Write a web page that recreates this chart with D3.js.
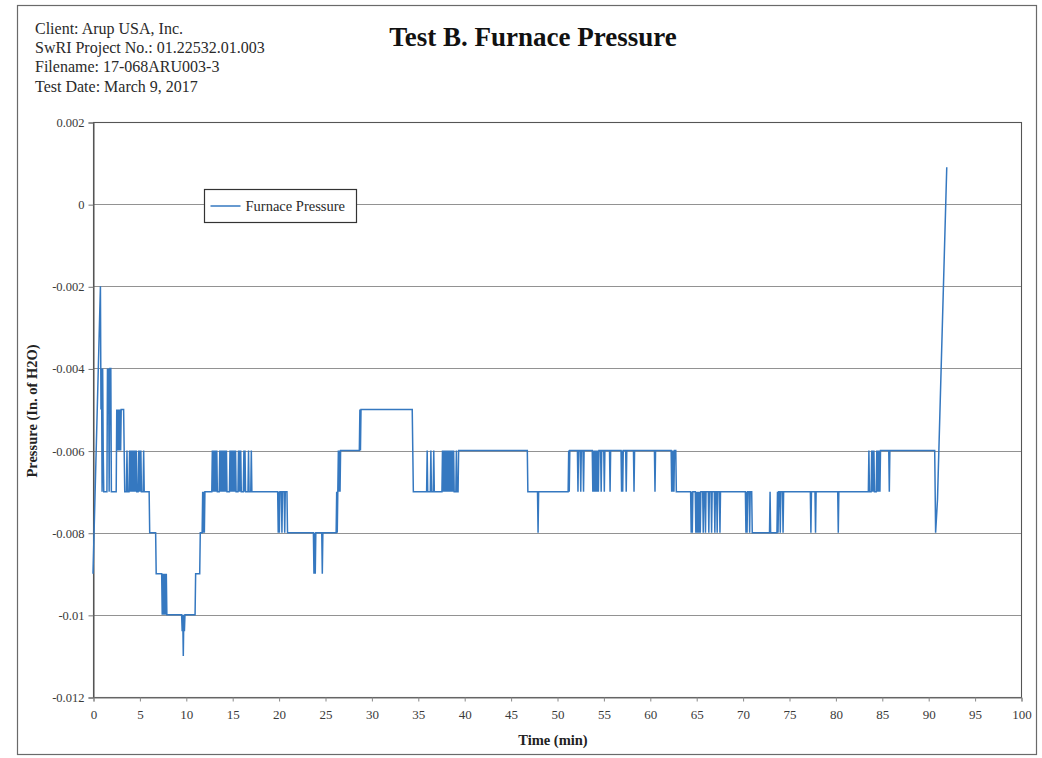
<!DOCTYPE html>
<html>
<head>
<meta charset="utf-8">
<title>Test B. Furnace Pressure</title>
<script src="https://cdn.jsdelivr.net/npm/d3@7/dist/d3.min.js"></script>
<style>
  html, body { margin: 0; padding: 0; background: #ffffff; }
  svg { display: block; }
  text { font-family: "Liberation Serif", "Times New Roman", serif; }
</style>
</head>
<body>
<svg id="chart" width="1042" height="758"></svg>
<script>
// Report header
const headerLines = [
  "Client: Arup USA, Inc.",
  "SwRI Project No.: 01.22532.01.003",
  "Filename: 17-068ARU003-3",
  "Test Date: March 9, 2017"
];
const chartTitle = "Test B. Furnace Pressure";
const seriesName = "Furnace Pressure";
const xTitle = "Time (min)";
const yTitle = "Pressure (In. of H2O)";

// Axis ticks
const xTicks = [0, 5, 10, 15, 20, 25, 30, 35, 40, 45, 50, 55, 60, 65, 70, 75, 80, 85, 90, 95, 100];
const yTicks = [0.002, 0, -0.002, -0.004, -0.006, -0.008, -0.01, -0.012];
const yTickLabels = ["0.002", "0", "-0.002", "-0.004", "-0.006", "-0.008", "-0.01", "-0.012"];

// Furnace pressure readings: [time (min), pressure (in. H2O)]
const furnacePressure = [
  // start-up swings
  [0.00,-0.009],[0.80,-0.002],[0.86,-0.005],[0.92,-0.004],[0.98,-0.007],[1.04,-0.004],[1.10,-0.006],[1.16,-0.007],
  [1.50,-0.007],[1.56,-0.004],[1.62,-0.005],[1.68,-0.004],[1.74,-0.007],[1.82,-0.004],[1.92,-0.004],[1.98,-0.007],
  [2.50,-0.007],[2.56,-0.005],[2.62,-0.006],[2.68,-0.005],[2.74,-0.006],[2.80,-0.005],[2.86,-0.006],[2.92,-0.005],
  [2.98,-0.006],[3.04,-0.005],[3.30,-0.005],[3.36,-0.006],[3.42,-0.007],
  [3.60,-0.007],[3.66,-0.006],[3.72,-0.007],
  [3.88,-0.007],[3.94,-0.006],[4.00,-0.007],[4.06,-0.006],[4.12,-0.007],[4.18,-0.006],[4.24,-0.007],[4.30,-0.006],
  [4.36,-0.007],[4.42,-0.006],[4.48,-0.007],[4.54,-0.006],[4.60,-0.007],[4.66,-0.006],[4.72,-0.007],
  [4.86,-0.007],[4.92,-0.006],[4.98,-0.007],[5.04,-0.006],[5.10,-0.007],[5.16,-0.006],[5.22,-0.007],
  [5.40,-0.007],[5.46,-0.006],[5.52,-0.007],
  // dip to the minimum
  [6.05,-0.007],[6.11,-0.008],
  [6.75,-0.008],[6.81,-0.009],
  [7.40,-0.009],[7.46,-0.010],[7.52,-0.009],[7.58,-0.010],[7.64,-0.009],[7.70,-0.010],[7.76,-0.009],[7.84,-0.010],
  [7.90,-0.009],[7.96,-0.010],
  [9.55,-0.010],[9.61,-0.0104],[9.67,-0.010],[9.73,-0.011],[9.79,-0.010],[9.85,-0.0104],[9.91,-0.010],
  [11.00,-0.010],[11.06,-0.009],
  [11.50,-0.009],[11.56,-0.008],
  [11.76,-0.008],[11.82,-0.007],[11.88,-0.008],[11.94,-0.007],[12.00,-0.008],[12.06,-0.007],
  // chatter between -0.006 and -0.007
  [12.80,-0.007],[12.86,-0.006],[12.92,-0.007],[12.98,-0.006],[13.04,-0.007],[13.10,-0.006],[13.16,-0.007],
  [13.22,-0.006],[13.28,-0.007],[13.34,-0.006],[13.40,-0.007],
  [13.60,-0.007],[13.66,-0.006],[13.72,-0.007],[13.78,-0.006],[13.84,-0.007],[13.90,-0.006],[13.96,-0.007],
  [14.02,-0.006],[14.08,-0.007],[14.14,-0.006],[14.20,-0.007],[14.26,-0.006],[14.32,-0.007],[14.38,-0.006],[14.44,-0.007],
  [14.70,-0.007],[14.76,-0.006],[14.82,-0.007],[14.88,-0.006],[14.94,-0.007],[15.00,-0.006],[15.06,-0.007],
  [15.12,-0.006],[15.18,-0.007],[15.24,-0.006],[15.30,-0.007],[15.36,-0.006],[15.42,-0.007],
  [15.62,-0.007],[15.68,-0.006],[15.74,-0.007],[15.80,-0.006],[15.86,-0.007],[15.92,-0.006],[15.98,-0.007],
  [16.20,-0.007],[16.26,-0.006],[16.32,-0.007],[16.38,-0.006],[16.44,-0.007],
  [16.70,-0.007],[16.76,-0.006],[16.82,-0.007],
  [17.00,-0.007],[17.06,-0.006],[17.12,-0.007],
  // -0.008 plateau
  [19.90,-0.007],[19.96,-0.008],[20.02,-0.007],[20.08,-0.008],[20.14,-0.007],
  [20.30,-0.007],[20.36,-0.008],[20.42,-0.007],[20.60,-0.007],[20.66,-0.008],[20.72,-0.007],[20.90,-0.007],[20.96,-0.008],
  [23.75,-0.008],[23.81,-0.009],[23.87,-0.008],[23.95,-0.009],[24.01,-0.008],
  [24.65,-0.008],[24.71,-0.009],[24.77,-0.008],
  [26.20,-0.008],[26.26,-0.007],[26.32,-0.008],[26.38,-0.007],[26.44,-0.006],[26.50,-0.007],[26.56,-0.006],
  [26.62,-0.007],[26.68,-0.006],
  // -0.005 plateau
  [28.70,-0.006],[28.76,-0.005],[28.82,-0.006],[28.88,-0.005],
  [34.40,-0.005],[34.46,-0.006],[34.52,-0.007],
  [35.95,-0.007],[36.01,-0.006],[36.07,-0.007],
  [36.35,-0.007],[36.41,-0.006],[36.47,-0.007],
  [36.66,-0.007],[36.72,-0.006],[36.78,-0.007],
  [37.60,-0.007],[37.66,-0.006],[37.72,-0.007],[37.78,-0.006],[37.84,-0.007],[37.90,-0.006],[37.96,-0.007],
  [38.02,-0.006],[38.08,-0.007],[38.14,-0.006],[38.20,-0.007],[38.26,-0.006],[38.32,-0.007],[38.38,-0.006],
  [38.44,-0.007],[38.50,-0.006],[38.56,-0.007],[38.62,-0.006],[38.68,-0.007],[38.74,-0.006],[38.80,-0.007],
  [38.86,-0.006],[38.92,-0.007],[39.10,-0.007],[39.16,-0.006],[39.22,-0.007],[39.34,-0.007],[39.40,-0.006],
  // steady -0.006
  [46.80,-0.006],[46.86,-0.007],
  [47.90,-0.007],[47.96,-0.008],[48.02,-0.007],
  [51.20,-0.007],[51.26,-0.006],[51.32,-0.007],[51.38,-0.006],
  [52.20,-0.006],[52.26,-0.007],[52.32,-0.006],[52.50,-0.006],[52.56,-0.007],[52.62,-0.006],
  [52.80,-0.006],[52.86,-0.007],[52.92,-0.006],
  [53.80,-0.006],[53.86,-0.007],[53.92,-0.006],[53.98,-0.007],[54.04,-0.006],[54.10,-0.007],[54.16,-0.006],
  [54.22,-0.007],[54.28,-0.006],[54.34,-0.007],[54.40,-0.006],[54.46,-0.007],[54.52,-0.006],
  [54.70,-0.006],[54.76,-0.007],[54.82,-0.006],[55.04,-0.006],[55.10,-0.007],[55.16,-0.006],
  [55.66,-0.006],[55.72,-0.007],[55.78,-0.006],
  [56.90,-0.006],[56.96,-0.007],[57.02,-0.006],[57.08,-0.007],[57.14,-0.006],
  [57.40,-0.006],[57.46,-0.007],[57.52,-0.006],
  [58.24,-0.006],[58.30,-0.007],[58.36,-0.006],
  [60.50,-0.006],[60.56,-0.007],[60.62,-0.006],
  [62.30,-0.006],[62.36,-0.007],[62.42,-0.006],[62.48,-0.007],[62.54,-0.006],[62.60,-0.007],[62.66,-0.006],
  [62.80,-0.006],[62.86,-0.007],
  // chatter between -0.007 and -0.008
  [64.40,-0.007],[64.46,-0.008],[64.52,-0.007],[64.58,-0.008],[64.64,-0.007],
  [64.90,-0.007],[64.96,-0.008],[65.02,-0.007],[65.08,-0.008],[65.14,-0.007],[65.20,-0.008],[65.26,-0.007],
  [65.32,-0.008],[65.38,-0.007],[65.44,-0.008],[65.50,-0.007],
  [65.70,-0.007],[65.76,-0.008],[65.82,-0.007],[65.94,-0.007],[66.00,-0.008],[66.06,-0.007],
  [66.30,-0.007],[66.36,-0.008],[66.42,-0.007],[66.60,-0.007],[66.66,-0.008],[66.72,-0.007],
  [66.95,-0.007],[67.01,-0.008],[67.07,-0.007],[67.20,-0.007],[67.26,-0.008],[67.32,-0.007],
  [67.50,-0.007],[67.56,-0.008],[67.62,-0.007],
  [70.30,-0.007],[70.36,-0.008],[70.42,-0.007],[70.48,-0.008],[70.54,-0.007],
  [70.70,-0.007],[70.76,-0.008],[70.82,-0.007],[70.98,-0.007],[71.04,-0.008],
  [72.90,-0.008],[72.96,-0.007],[73.02,-0.008],
  [73.70,-0.008],[73.76,-0.007],[73.82,-0.008],[73.88,-0.007],
  [74.00,-0.007],[74.06,-0.008],[74.12,-0.007],[74.30,-0.007],[74.36,-0.008],[74.42,-0.007],
  [77.30,-0.007],[77.36,-0.008],[77.42,-0.007],[77.80,-0.007],[77.86,-0.008],[77.92,-0.007],
  [80.25,-0.007],[80.31,-0.008],[80.37,-0.007],
  // recovery and burner shut-off
  [83.55,-0.007],[83.61,-0.006],[83.67,-0.007],
  [83.85,-0.007],[83.91,-0.006],[83.97,-0.007],[84.03,-0.006],[84.09,-0.007],[84.15,-0.006],[84.21,-0.007],
  [84.40,-0.007],[84.46,-0.006],[84.52,-0.007],[84.58,-0.006],[84.64,-0.007],[84.70,-0.006],
  [84.80,-0.007],[84.86,-0.006],
  [85.75,-0.006],[85.81,-0.007],[85.87,-0.006],
  [90.70,-0.006],[90.80,-0.008],[91.00,-0.0072],[92.00,0.0009]
];

const svg = d3.select("#chart");

// Page frame
svg.append("rect")
  .attr("x", 17.5).attr("y", 5.5)
  .attr("width", 1019).attr("height", 749)
  .attr("fill", "#ffffff")
  .attr("stroke", "#6a6a6a").attr("stroke-width", 1.2);

// Header block
svg.append("g").selectAll("text")
  .data(headerLines)
  .join("text")
  .attr("x", 35)
  .attr("y", (d, i) => 34 + i * 19.2)
  .attr("font-size", 16)
  .attr("fill", "#2a2a2a")
  .text(d => d);

svg.append("text")
  .attr("x", 533).attr("y", 46)
  .attr("text-anchor", "middle")
  .attr("font-size", 27)
  .attr("font-weight", "bold")
  .attr("fill", "#111")
  .text(chartTitle);

// Scales
const plot = { left: 93, right: 1021, top: 122, bottom: 697 };
const x = d3.scaleLinear().domain([0, 100]).range([plot.left, plot.right]);
const y = d3.scaleLinear().domain([-0.012, 0.002]).range([plot.bottom, plot.top]);

// Horizontal gridlines
svg.append("g")
  .selectAll("line")
  .data(yTicks)
  .join("line")
  .attr("x1", plot.left).attr("x2", plot.right)
  .attr("y1", d => Math.round(y(d)) + 0.5).attr("y2", d => Math.round(y(d)) + 0.5)
  .attr("stroke", "#929292").attr("stroke-width", 1.1);

// Plot-area border
svg.append("rect")
  .attr("x", plot.left + 0.5).attr("y", plot.top + 0.5)
  .attr("width", plot.right - plot.left).attr("height", plot.bottom - plot.top)
  .attr("fill", "none")
  .attr("stroke", "#555").attr("stroke-width", 1.1);

// Y axis
const yAxis = svg.append("g")
  .attr("transform", `translate(${plot.left + 0.5},0.5)`)
  .call(d3.axisLeft(y)
    .tickValues(yTicks)
    .tickSize(5)
    .tickPadding(4)
    .tickFormat((d, i) => yTickLabels[i]));
yAxis.select(".domain").attr("stroke", "#555");
yAxis.selectAll(".tick line").attr("stroke", "#777");
yAxis.selectAll(".tick text")
  .attr("font-family", "'Liberation Serif', 'Times New Roman', serif")
  .attr("font-size", 12.5)
  .attr("fill", "#3a3a3a");

// X axis
const xAxis = svg.append("g")
  .attr("transform", `translate(0.5,${plot.bottom + 0.5})`)
  .call(d3.axisBottom(x)
    .tickValues(xTicks)
    .tickSize(4)
    .tickPadding(8)
    .tickFormat(d => String(d)));
xAxis.select(".domain").attr("stroke", "#777");
xAxis.selectAll(".tick line").attr("stroke", "#888");
xAxis.selectAll(".tick text")
  .attr("font-family", "'Liberation Serif', 'Times New Roman', serif")
  .attr("font-size", 13)
  .attr("fill", "#3a3a3a");

// Axis titles
svg.append("text")
  .attr("x", 553).attr("y", 745)
  .attr("text-anchor", "middle")
  .attr("font-size", 14.5)
  .attr("font-weight", "bold")
  .attr("fill", "#222")
  .text(xTitle);

svg.append("text")
  .attr("transform", "translate(37,411) rotate(-90)")
  .attr("text-anchor", "middle")
  .attr("font-size", 14.5)
  .attr("font-weight", "bold")
  .attr("fill", "#222")
  .text(yTitle);

// Pressure trace
const line = d3.line()
  .x(d => x(d[0]))
  .y(d => y(d[1]))
  .curve(d3.curveLinear);

svg.append("path")
  .datum(furnacePressure)
  .attr("d", line)
  .attr("fill", "none")
  .attr("stroke", "#3578c0")
  .attr("stroke-width", 1.5)
  .attr("stroke-linejoin", "miter");

// Legend
const legend = svg.append("g").attr("transform", "translate(204.5,189.5)");
legend.append("rect")
  .attr("width", 152).attr("height", 33)
  .attr("fill", "#ffffff")
  .attr("stroke", "#333").attr("stroke-width", 1.2);
legend.append("line")
  .attr("x1", 6).attr("x2", 36)
  .attr("y1", 16.5).attr("y2", 16.5)
  .attr("stroke", "#3578c0").attr("stroke-width", 1.5);
legend.append("text")
  .attr("x", 41).attr("y", 21.5)
  .attr("font-size", 14.5)
  .attr("fill", "#2a2a2a")
  .text(seriesName);
</script>
</body>
</html>
